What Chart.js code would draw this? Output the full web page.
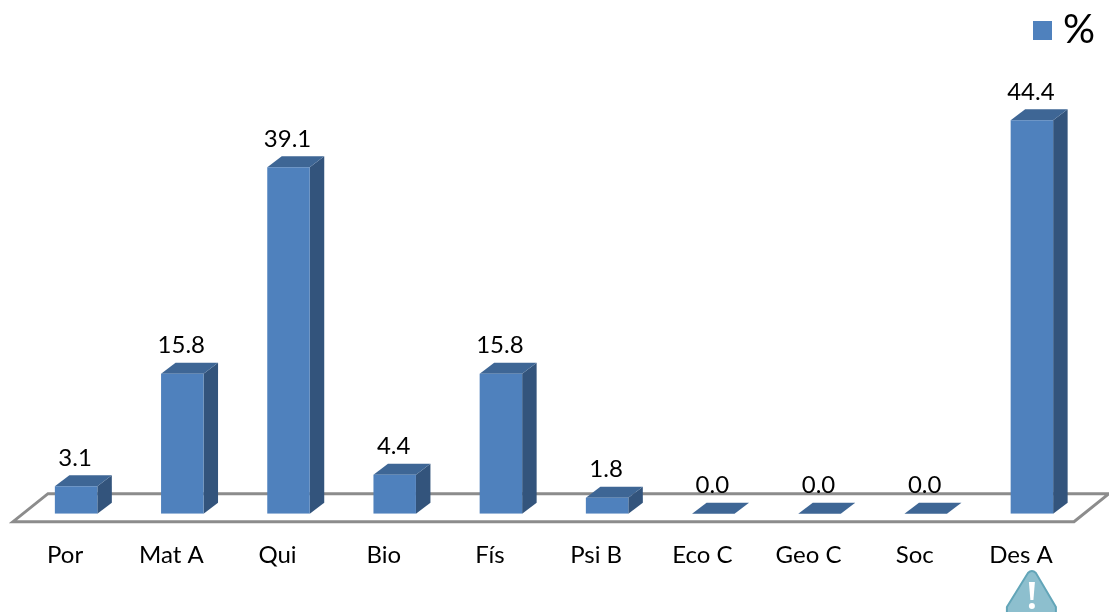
<!DOCTYPE html>
<html>
<head>
<meta charset="utf-8">
<style>
html, body { margin: 0; padding: 0; background: #fff; }
#wrap { width: 1109px; height: 612px; }
</style>
<script src="https://cdn.jsdelivr.net/npm/chart.js@4/dist/chart.umd.min.js"></script>
</head>
<body>
<div id="wrap"><canvas id="grafico"></canvas></div>
<script>
const categories = ['Por', 'Mat A', 'Qui', 'Bio', 'Fís', 'Psi B', 'Eco C', 'Geo C', 'Soc', 'Des A']
const percent = [3.1, 15.8, 39.1, 4.4, 15.8, 1.8, 0.0, 0.0, 0.0, 44.4]
const seriesName = '%'

const FRONT = '#4f81bd'
const SIDE = '#33547c'
const TOP = '#3e6695'
const FLOOR = '#8c8c8c'
const DX = 14.5
const DY = 11
const FONT = 'Lato, Carlito, sans-serif'

// legend square, drawn off-centre so the gap to the % sign stays small
const square = document.createElement('canvas')
square.width = 19
square.height = 19
square.getContext('2d').fillStyle = FRONT
square.getContext('2d').fillRect(0, 0, 19, 19)

function poly(ctx, pts, fill) {
    ctx.beginPath()
    pts.forEach((p, i) => i ? ctx.lineTo(p[0], p[1]) : ctx.moveTo(p[0], p[1]))
    ctx.closePath()
    ctx.fillStyle = fill
    ctx.fill()
}

const fake3d = {
    id: 'fake3d',
    beforeDatasetsDraw(chart) {
        const ctx = chart.ctx
        const a = chart.chartArea
        const base = chart.scales.y.getPixelForValue(0)
        // floor
        ctx.save()
        ctx.strokeStyle = FLOOR
        ctx.lineWidth = 3
        ctx.lineJoin = 'miter'
        ctx.beginPath()
        ctx.moveTo(a.left - 10, base + 8)
        ctx.lineTo(a.right - 11, base + 8)
        ctx.lineTo(a.right + 24, base - 20)
        ctx.lineTo(a.left + 25, base - 20)
        ctx.closePath()
        ctx.stroke()
        // sides and tops of the bars
        chart.getDatasetMeta(0).data.forEach(bar => {
            const l = bar.x - bar.width / 2
            const r = bar.x + bar.width / 2
            poly(ctx, [[r, bar.y], [r + DX, bar.y - DY], [r + DX, base - DY], [r, base]], SIDE)
            poly(ctx, [[l, bar.y], [l + DX, bar.y - DY], [r + DX, bar.y - DY], [r, bar.y]], TOP)
        })
        ctx.restore()
    },
    afterDatasetsDraw(chart) {
        const ctx = chart.ctx
        ctx.save()
        // value labels
        ctx.font = '24px ' + FONT
        ctx.fillStyle = '#000'
        ctx.textAlign = 'center'
        ctx.textBaseline = 'middle'
        chart.getDatasetMeta(0).data.forEach((bar, i) => {
            ctx.fillText(percent[i].toFixed(1), bar.x - 1, bar.y - 28)
        })
        // warning sign under the last category, cut by the page edge
        const last = chart.getDatasetMeta(0).data[9]
        const x = last.x
        ctx.beginPath()
        ctx.moveTo(x - 4, 573)
        ctx.quadraticCurveTo(x, 569, x + 4, 573)
        ctx.lineTo(x + 24, 607)
        ctx.lineTo(x + 24, 616)
        ctx.lineTo(x - 25, 616)
        ctx.lineTo(x - 25, 607)
        ctx.closePath()
        ctx.fillStyle = '#8dbfce'
        ctx.fill()
        ctx.strokeStyle = '#62a5b8'
        ctx.lineWidth = 2
        ctx.stroke()
        ctx.fillStyle = '#fff'
        ctx.beginPath()
        ctx.moveTo(x - 3, 582)
        ctx.lineTo(x + 3, 582)
        ctx.lineTo(x + 1.5, 600)
        ctx.lineTo(x - 1.5, 600)
        ctx.closePath()
        ctx.fill()
        ctx.beginPath()
        ctx.arc(x, 606, 3, 0, Math.PI * 2)
        ctx.fill()
        ctx.restore()
    }
}

new Chart(document.getElementById('grafico'), {
    type: 'bar',
    data: {
        labels: categories,
        datasets: [{
            label: seriesName,
            data: percent,
            backgroundColor: FRONT,
            barPercentage: 0.4,
            categoryPercentage: 1
        }]
    },
    options: {
        responsive: true,
        maintainAspectRatio: false,
        animation: false,
        layout: { padding: { left: 0, right: 4, top: 0, bottom: 23.5 } },
        plugins: {
            tooltip: { enabled: false },
            legend: {
                position: 'top',
                align: 'end',
                labels: {
                    font: { family: FONT, size: 40 },
                    color: '#000',
                    usePointStyle: true,
                    pointStyle: square,
                    boxWidth: 1,
                    padding: 10
                }
            }
        },
        scales: {
            x: {
                grid: { display: false },
                border: { display: false },
                ticks: {
                    font: { family: FONT, size: 24 },
                    color: '#000',
                    padding: 19,
                    labelOffset: -11,
                    maxRotation: 0,
                    autoSkip: false
                }
            },
            y: {
                min: 0,
                max: 51.2,
                grid: { display: false },
                border: { display: false },
                ticks: { display: false },
                afterFit(s) { s.width = 23 }
            },
            yRight: {
                position: 'right',
                grid: { display: false },
                border: { display: false },
                ticks: { display: false },
                afterFit(s) { s.width = 20 }
            }
        }
    },
    plugins: [fake3d]
})
</script>
</body>
</html>
